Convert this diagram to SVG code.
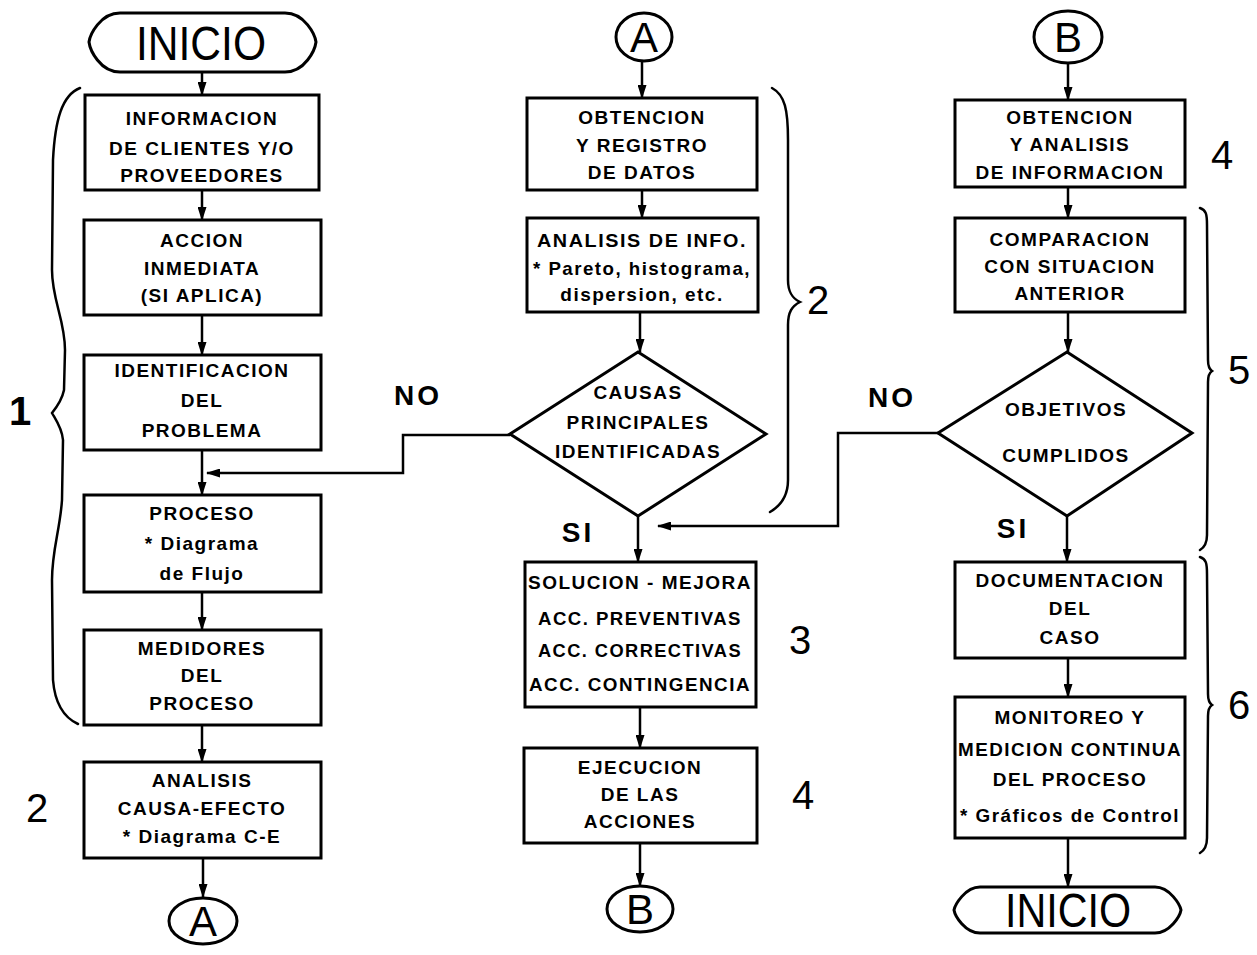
<svg xmlns="http://www.w3.org/2000/svg" width="1257" height="955" viewBox="0 0 1257 955">
  <defs>
    <marker id="arrow" viewBox="0 0 14 9" refX="13" refY="4.5" markerWidth="14" markerHeight="9" markerUnits="userSpaceOnUse" orient="auto">
      <path d="M0,0 L14,4.5 L0,9 Z" fill="#000"/>
    </marker>
    <style>
      .box { fill: #fff; stroke: #000; stroke-width: 3; }
      .conn { fill: none; stroke: #000; stroke-width: 2.5; }
      .brace { fill: none; stroke: #000; stroke-width: 2.5; stroke-linecap: round; }
      .t { font-family: "Liberation Sans", Arial, sans-serif; font-weight: bold; font-size: 19px; letter-spacing: 1.5px; text-anchor: middle; fill: #000; }
      .big { font-family: "Liberation Sans", Arial, sans-serif; font-size: 48px; text-anchor: middle; fill: #000; }
      .conl { font-family: "Liberation Sans", Arial, sans-serif; font-size: 42px; text-anchor: middle; fill: #000; }
      .num { font-family: "Liberation Sans", Arial, sans-serif; font-size: 40px; text-anchor: middle; fill: #000; }
      .yn { font-family: "Liberation Sans", Arial, sans-serif; font-weight: bold; font-size: 28px; letter-spacing: 3px; text-anchor: middle; fill: #000; }
    </style>
  </defs>
  <rect width="1257" height="955" fill="#fff"/>

  <!-- connectors -->
  <g id="connectors">
    <line class="conn" x1="202" y1="72" x2="202" y2="95" marker-end="url(#arrow)"/>
    <line class="conn" x1="202" y1="190" x2="202" y2="220" marker-end="url(#arrow)"/>
    <line class="conn" x1="202" y1="315" x2="202" y2="355" marker-end="url(#arrow)"/>
    <line class="conn" x1="202" y1="450" x2="202" y2="495" marker-end="url(#arrow)"/>
    <line class="conn" x1="202" y1="592" x2="202" y2="630" marker-end="url(#arrow)"/>
    <line class="conn" x1="202" y1="725" x2="202" y2="762" marker-end="url(#arrow)"/>
    <line class="conn" x1="203" y1="858" x2="203" y2="897" marker-end="url(#arrow)"/>

    <line class="conn" x1="642" y1="61" x2="642" y2="98" marker-end="url(#arrow)"/>
    <line class="conn" x1="642" y1="190" x2="642" y2="218" marker-end="url(#arrow)"/>
    <line class="conn" x1="640" y1="312" x2="640" y2="352" marker-end="url(#arrow)"/>
    <line class="conn" x1="638" y1="516" x2="638" y2="562" marker-end="url(#arrow)"/>
    <line class="conn" x1="640" y1="707" x2="640" y2="748" marker-end="url(#arrow)"/>
    <line class="conn" x1="640" y1="843" x2="640" y2="886" marker-end="url(#arrow)"/>
    <polyline class="conn" points="510,435 403,435 403,473 207,473" marker-end="url(#arrow)"/>

    <line class="conn" x1="1068" y1="63" x2="1068" y2="100" marker-end="url(#arrow)"/>
    <line class="conn" x1="1068" y1="187" x2="1068" y2="218" marker-end="url(#arrow)"/>
    <line class="conn" x1="1068" y1="312" x2="1068" y2="352" marker-end="url(#arrow)"/>
    <line class="conn" x1="1067" y1="516" x2="1067" y2="562" marker-end="url(#arrow)"/>
    <line class="conn" x1="1068" y1="658" x2="1068" y2="697" marker-end="url(#arrow)"/>
    <line class="conn" x1="1068" y1="838" x2="1068" y2="887" marker-end="url(#arrow)"/>
    <polyline class="conn" points="938,433 838,433 838,526 658,526" marker-end="url(#arrow)"/>
  </g>

  <!-- braces and step numbers -->
  <g id="braces">
    <path class="brace" d="M 80 88 C 62 95, 55 120, 53 160 L 52 270 C 52 300, 65 320, 65 350 L 64 390 C 62 400, 56 408, 52 413 C 56 420, 62 428, 63 440 L 62 500 C 60 530, 52 550, 52 580 L 53 680 C 55 705, 65 718, 78 724"/>
    <path class="brace" d="M 772 88 C 785 95, 788 110, 788 140 L 788 280 C 788 292, 792 298, 800 302 C 792 306, 788 312, 788 325 L 788 480 C 788 495, 782 505, 770 512"/>
    <path class="brace" d="M 1200 208 C 1206 210, 1207 214, 1207 225 L 1208 360 C 1208 366, 1209 369, 1212 371 C 1209 373, 1208 376, 1208 382 L 1207 535 C 1207 543, 1205 547, 1200 550"/>
    <path class="brace" d="M 1200 557 C 1206 559, 1207 563, 1207 574 L 1208 694 C 1208 700, 1209 703, 1212 705 C 1209 707, 1208 710, 1208 716 L 1207 838 C 1207 846, 1205 850, 1200 853"/>
    <text class="num" x="20" y="425" font-weight="bold">1</text>
    <text class="num" x="37" y="822">2</text>
    <text class="num" x="818" y="314">2</text>
    <text class="num" x="800" y="654">3</text>
    <text class="num" x="803" y="809">4</text>
    <text class="num" x="1222" y="169">4</text>
    <text class="num" x="1239" y="384">5</text>
    <text class="num" x="1239" y="719">6</text>
  </g>

  <!-- left column -->
  <g id="inicio-top">
    <path class="box" d="M 120 13 L 285 13 C 305 13, 315 35, 316 42 C 315 50, 305 72, 285 72 L 120 72 C 100 72, 90 50, 89 42 C 90 35, 100 13, 120 13 Z"/>
    <text class="big" x="201" y="60" textLength="130" lengthAdjust="spacingAndGlyphs">INICIO</text>
  </g>
  <g id="info-clientes">
    <rect class="box" x="85" y="95" width="234" height="95"/>
    <text class="t" x="202" y="125">INFORMACION</text>
    <text class="t" x="202" y="155">DE CLIENTES Y/O</text>
    <text class="t" x="202" y="182">PROVEEDORES</text>
  </g>
  <g id="accion-inmediata">
    <rect class="box" x="84" y="220" width="237" height="95"/>
    <text class="t" x="202" y="247">ACCION</text>
    <text class="t" x="202" y="275">INMEDIATA</text>
    <text class="t" x="202" y="302">(SI APLICA)</text>
  </g>
  <g id="identificacion">
    <rect class="box" x="84" y="355" width="237" height="95"/>
    <text class="t" x="202" y="377">IDENTIFICACION</text>
    <text class="t" x="202" y="407">DEL</text>
    <text class="t" x="202" y="437">PROBLEMA</text>
  </g>
  <g id="proceso">
    <rect class="box" x="84" y="495" width="237" height="97"/>
    <text class="t" x="202" y="520">PROCESO</text>
    <text class="t" x="202" y="550">* Diagrama</text>
    <text class="t" x="202" y="580">de Flujo</text>
  </g>
  <g id="medidores">
    <rect class="box" x="84" y="630" width="237" height="95"/>
    <text class="t" x="202" y="655">MEDIDORES</text>
    <text class="t" x="202" y="682">DEL</text>
    <text class="t" x="202" y="710">PROCESO</text>
  </g>
  <g id="causa-efecto">
    <rect class="box" x="84" y="762" width="237" height="96"/>
    <text class="t" x="202" y="787">ANALISIS</text>
    <text class="t" x="202" y="815">CAUSA-EFECTO</text>
    <text class="t" x="202" y="843">* Diagrama C-E</text>
  </g>
  <g id="conector-a-out">
    <ellipse class="box" cx="203" cy="921" rx="34" ry="23"/>
    <text class="conl" x="203" y="936">A</text>
  </g>

  <!-- middle column -->
  <g id="conector-a-in">
    <ellipse class="box" cx="644" cy="37" rx="28" ry="24"/>
    <text class="conl" x="644" y="52">A</text>
  </g>
  <g id="obtencion-datos">
    <rect class="box" x="527" y="98" width="230" height="92"/>
    <text class="t" x="642" y="124">OBTENCION</text>
    <text class="t" x="642" y="152">Y REGISTRO</text>
    <text class="t" x="642" y="179">DE DATOS</text>
  </g>
  <g id="analisis-info">
    <rect class="box" x="527" y="218" width="231" height="94"/>
    <text class="t" x="642" y="247" textLength="210" lengthAdjust="spacingAndGlyphs">ANALISIS DE INFO.</text>
    <text class="t" x="642" y="275" textLength="218" lengthAdjust="spacingAndGlyphs">* Pareto, histograma,</text>
    <text class="t" x="642" y="301">dispersion, etc.</text>
  </g>
  <g id="causas">
    <polygon class="box" points="638,352 766,434 638,516 510,434"/>
    <text class="t" x="638" y="399">CAUSAS</text>
    <text class="t" x="638" y="429">PRINCIPALES</text>
    <text class="t" x="638" y="458">IDENTIFICADAS</text>
    <text class="yn" x="418" y="405">NO</text>
    <text class="yn" x="578" y="542">SI</text>
  </g>
  <g id="solucion">
    <rect class="box" x="525" y="562" width="231" height="145"/>
    <text class="t" x="640" y="589" textLength="224" lengthAdjust="spacingAndGlyphs">SOLUCION - MEJORA</text>
    <text class="t" x="640" y="625" textLength="204" lengthAdjust="spacingAndGlyphs">ACC. PREVENTIVAS</text>
    <text class="t" x="640" y="657" textLength="204" lengthAdjust="spacingAndGlyphs">ACC. CORRECTIVAS</text>
    <text class="t" x="640" y="691" textLength="222" lengthAdjust="spacingAndGlyphs">ACC. CONTINGENCIA</text>
  </g>
  <g id="ejecucion">
    <rect class="box" x="524" y="748" width="233" height="95"/>
    <text class="t" x="640" y="774">EJECUCION</text>
    <text class="t" x="640" y="801">DE LAS</text>
    <text class="t" x="640" y="828">ACCIONES</text>
  </g>
  <g id="conector-b-out">
    <ellipse class="box" cx="640" cy="909" rx="33" ry="23"/>
    <text class="conl" x="640" y="924">B</text>
  </g>

  <!-- right column -->
  <g id="conector-b-in">
    <ellipse class="box" cx="1068" cy="37" rx="34" ry="26"/>
    <text class="conl" x="1068" y="52">B</text>
  </g>
  <g id="obtencion-info">
    <rect class="box" x="955" y="100" width="230" height="87"/>
    <text class="t" x="1070" y="124">OBTENCION</text>
    <text class="t" x="1070" y="151">Y ANALISIS</text>
    <text class="t" x="1070" y="179">DE INFORMACION</text>
  </g>
  <g id="comparacion">
    <rect class="box" x="955" y="218" width="230" height="94"/>
    <text class="t" x="1070" y="246">COMPARACION</text>
    <text class="t" x="1070" y="273">CON SITUACION</text>
    <text class="t" x="1070" y="300">ANTERIOR</text>
  </g>
  <g id="objetivos">
    <polygon class="box" points="1067,352 1192,433 1067,516 938,433"/>
    <text class="t" x="1066" y="416">OBJETIVOS</text>
    <text class="t" x="1066" y="462">CUMPLIDOS</text>
    <text class="yn" x="892" y="407">NO</text>
    <text class="yn" x="1013" y="538">SI</text>
  </g>
  <g id="documentacion">
    <rect class="box" x="955" y="562" width="230" height="96"/>
    <text class="t" x="1070" y="587">DOCUMENTACION</text>
    <text class="t" x="1070" y="615">DEL</text>
    <text class="t" x="1070" y="644">CASO</text>
  </g>
  <g id="monitoreo">
    <rect class="box" x="955" y="697" width="230" height="141"/>
    <text class="t" x="1070" y="724">MONITOREO Y</text>
    <text class="t" x="1070" y="756" textLength="224" lengthAdjust="spacingAndGlyphs">MEDICION CONTINUA</text>
    <text class="t" x="1070" y="786">DEL PROCESO</text>
    <text class="t" x="1070" y="822" textLength="220" lengthAdjust="spacingAndGlyphs">* Gráficos de Control</text>
  </g>
  <g id="inicio-bottom">
    <path class="box" d="M 980 887 L 1155 887 C 1170 887, 1180 905, 1181 910 C 1180 916, 1170 933, 1155 933 L 980 933 C 965 933, 955 916, 954 910 C 955 905, 965 887, 980 887 Z"/>
    <text class="big" x="1068" y="927" textLength="126" lengthAdjust="spacingAndGlyphs">INICIO</text>
  </g>
</svg>
